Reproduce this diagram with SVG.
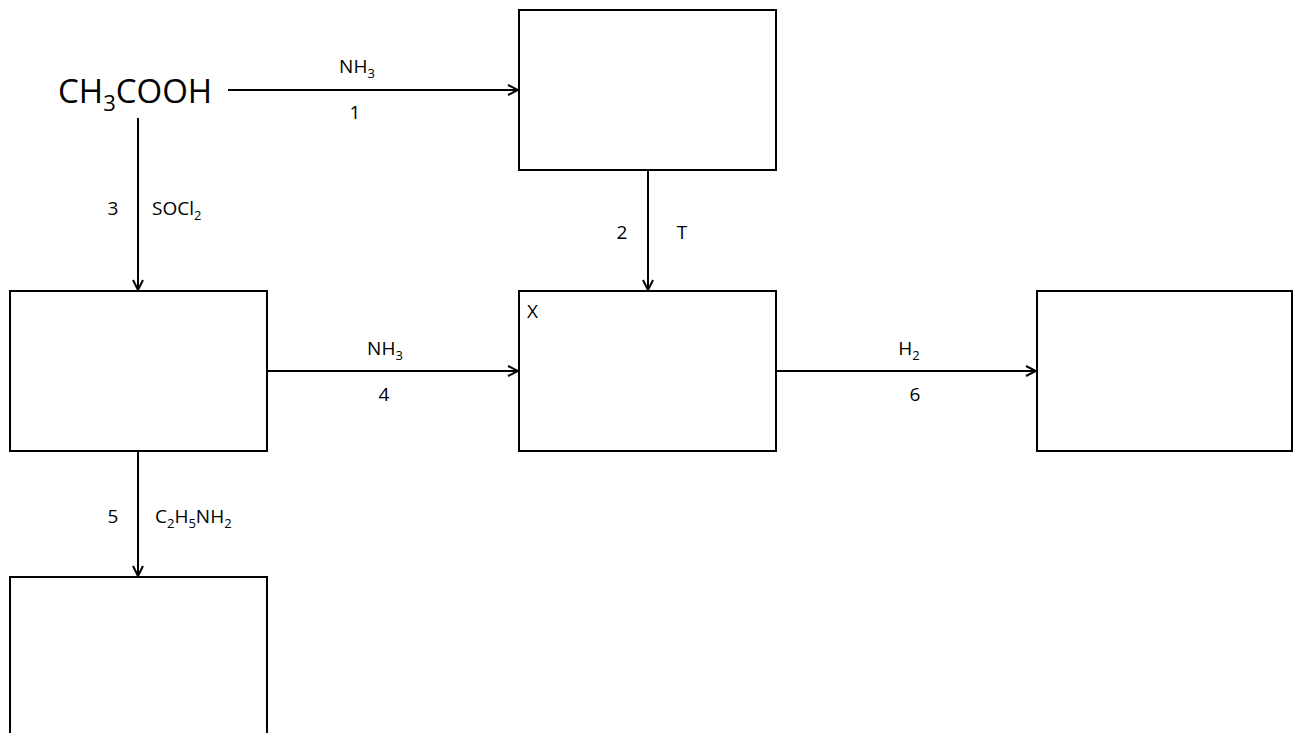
<svg xmlns="http://www.w3.org/2000/svg" width="1293" height="733" viewBox="0 0 1293 733">
  <style>
    .box { fill: #fff; stroke: #000; stroke-width: 2; }
    .edge { fill: none; stroke: #000; stroke-width: 2; marker-end: url(#arrow); }
    text { font-family: "Open Sans", "Noto Sans", sans-serif; font-size: 19px; fill: #000; }
    .mid { text-anchor: middle; }
    .big { font-size: 33px; }
    .sub { font-size: 13px; }
  </style>
  <defs>
    <marker id="arrow" viewBox="0 0 12 12" refX="11" refY="6" markerWidth="12" markerHeight="12" markerUnits="userSpaceOnUse" orient="auto">
      <path d="M1,1 L11,6 L1,11" fill="none" stroke="#000" stroke-width="2"/>
    </marker>
  </defs>
  <rect width="1293" height="733" fill="#fff"/>

  <g id="acetic-acid">
    <text class="big" x="58" y="103">CH<tspan font-size="22" dy="8">3</tspan><tspan dy="-8">COOH</tspan></text>
  </g>
  <g id="product-1"><rect class="box" x="519" y="10" width="257" height="160"/></g>
  <g id="product-3"><rect class="box" x="10" y="291" width="257" height="160"/></g>
  <g id="product-x">
    <rect class="box" x="519" y="291" width="257" height="160"/>
    <text x="527" y="318">X</text>
  </g>
  <g id="product-6"><rect class="box" x="1037" y="291" width="255" height="160"/></g>
  <g id="product-5"><rect class="box" x="10" y="577" width="257" height="170"/></g>

  <g id="connectors">
    <line class="edge" x1="228" y1="90" x2="518" y2="90"/>
    <text class="mid" x="357" y="73">NH<tspan class="sub" dy="5">3</tspan></text>
    <text class="mid" x="355" y="119">1</text>

    <line class="edge" x1="138" y1="118" x2="138" y2="290"/>
    <text class="mid" x="113" y="215">3</text>
    <text x="152" y="215">SOCl<tspan class="sub" dy="5">2</tspan></text>

    <line class="edge" x1="648" y1="170" x2="648" y2="290"/>
    <text class="mid" x="622" y="239">2</text>
    <text class="mid" x="682" y="239">T</text>

    <line class="edge" x1="267" y1="371" x2="518" y2="371"/>
    <text class="mid" x="385" y="355">NH<tspan class="sub" dy="5">3</tspan></text>
    <text class="mid" x="384" y="401">4</text>

    <line class="edge" x1="776" y1="371" x2="1036" y2="371"/>
    <text class="mid" x="909" y="355">H<tspan class="sub" dy="5">2</tspan></text>
    <text class="mid" x="915" y="401">6</text>

    <line class="edge" x1="138" y1="451" x2="138" y2="576"/>
    <text class="mid" x="113" y="523">5</text>
    <text x="155" y="523">C<tspan class="sub" dy="5">2</tspan><tspan dy="-5">H</tspan><tspan class="sub" dy="5">5</tspan><tspan dy="-5">NH</tspan><tspan class="sub" dy="5">2</tspan></text>
  </g>
</svg>
